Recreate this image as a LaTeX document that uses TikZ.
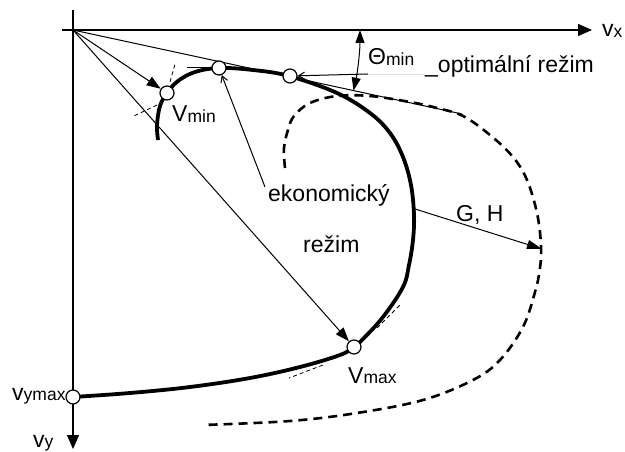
\documentclass[tikz,border=0pt]{standalone}
\usepackage{fontspec}
\setmainfont{Liberation Sans}
\usetikzlibrary{arrows.meta}
\newcommand\smallsub[1]{\raisebox{-0.5pt}{\fontsize{17.5}{17.5}\selectfont #1}}
\begin{document}
\begin{tikzpicture}[x=1pt,y=-1pt,
  lbl/.style={inner sep=0pt, font=\fontsize{23}{25}\selectfont, anchor=base west},
  pt/.style={circle, draw, fill=white, line width=1.2pt, minimum size=14pt, inner sep=0pt},
  thinline/.style={line width=1pt},
  axisline/.style={line width=1.4pt},
  heavy/.style={line width=3.8pt, line join=round, line cap=butt},
  bigdash/.style={line width=2.6pt, dash pattern=on 9pt off 6pt},
  smalldash/.style={line width=0.8pt, dash pattern=on 4pt off 3pt},
  bigtip/.style={-{Triangle[length=14pt,width=12pt]}},
  midtip/.style={-{Triangle[length=14pt,width=10pt]}},
  opentip/.style={-{Straight Barb[length=6pt,width=7pt]}}
]
\useasboundingbox (0,0) rectangle (625,452);

% axes
\coordinate (O) at (73,30);
\coordinate (xs) at (62,30);
\coordinate (xe) at (592,30);
\coordinate (ys) at (73,10);
\coordinate (ye) at (73,449);
\draw[axisline,bigtip] (xs) -- (xe);
\draw[axisline,bigtip] (ys) -- (ye);

% dashed outer curve
\draw[bigdash] plot[smooth, tension=0.6] coordinates {(285,168) (284,148) (288,130) (294,116) (310,103) (337,96) (370,96) (410,102) (437,108) (463,116) (490,135) (513,157) (527,180) (537,213) (541,245) (540,268) (535,292) (523,327) (500,360) (473,380) (423,400) (357,413) (290,421) (203,425)};

% heavy curve
\draw[heavy] plot[smooth, tension=0.6] coordinates {(158,140) (157,125) (160,106) (167,93) (178,81) (195,72) (219,68) (253,70) (289,76) (337,93) (370,113) (390,133) (403,157) (411,185) (414,215) (413,240) (409,265) (403,287) (383,317) (362,340) (354,347) (340,355) (300,367) (250,378) (190,387) (130,393) (73,397)};

% thin dashed tangents
\draw[smalldash] (170,82) -- (175,64);
\draw[smalldash] (157,105) -- (134,116);
\draw[smalldash] (377,328) -- (401,304);
\draw[smalldash] (323,365) -- (289,378);

% tangent line from origin and horizontal tangent at top
\coordinate (tanEnd) at (462,114);
\draw[thinline] (O) -- (tanEnd);
\coordinate (hz) at (187,68);
\coordinate (hzE) at (213,68);
\draw[thinline] (hz) -- (hzE);

% circles
\node[pt] (vymaxpt) at (73,397) {};
\node[pt] (vmaxpt) at (354,347) {};
\node[pt] (vminpt) at (167,93) {};
\node[pt] (toppt) at (219,68) {};
\node[pt] (optpt) at (290,76) {};

% arrows
\draw[thinline,midtip] (O) -- (vminpt);
\draw[thinline,midtip] (O) -- (vmaxpt);
\coordinate (eko) at (265,187);
\draw[thinline,opentip] (eko) -- (toppt);
\coordinate (optEnd) at (368,74);
\coordinate (optFaint) at (424,74);
\draw[thinline,opentip] (optEnd) -- (optpt);
\draw[line width=0.8pt, gray!25] (optEnd) -- (optFaint);
\coordinate (ghs) at (415,209);
\coordinate (ghe) at (542,249);
\draw[thinline,-{Triangle[length=15pt,width=9pt]}] (ghs) -- (ghe);
\coordinate (thA) at (360,30);
\draw[thinline,{Triangle[length=13pt,width=9pt]}-{Triangle[length=13pt,width=9pt]}] (thA) arc[start angle=0, end angle=12.2, radius=287];

% labels
\node[lbl] (lvx) at (602,37) {v\smallsub{x}};
\node[lbl] (lvy) at (33,447) {v\smallsub{y}};
\node[lbl] (lvymax) at (12,400) {v\smallsub{ymax}};
\node[lbl] (lvmin) at (172,122) {V\smallsub{min}};
\node[lbl] (lvmax) at (348,383) {V\smallsub{max}};
\node[lbl] (ltheta) at (368,65) {Θ\smallsub{min}};
\node[lbl] (lopt) at (425,73) {\_optimální režim};
\node[lbl] (leko) at (268,201) {ekonomický};
\node[lbl] (lrez) at (303,252) {režim};
\node[lbl] (lgh) at (456,222) {G, H};
\end{tikzpicture}
\end{document}
